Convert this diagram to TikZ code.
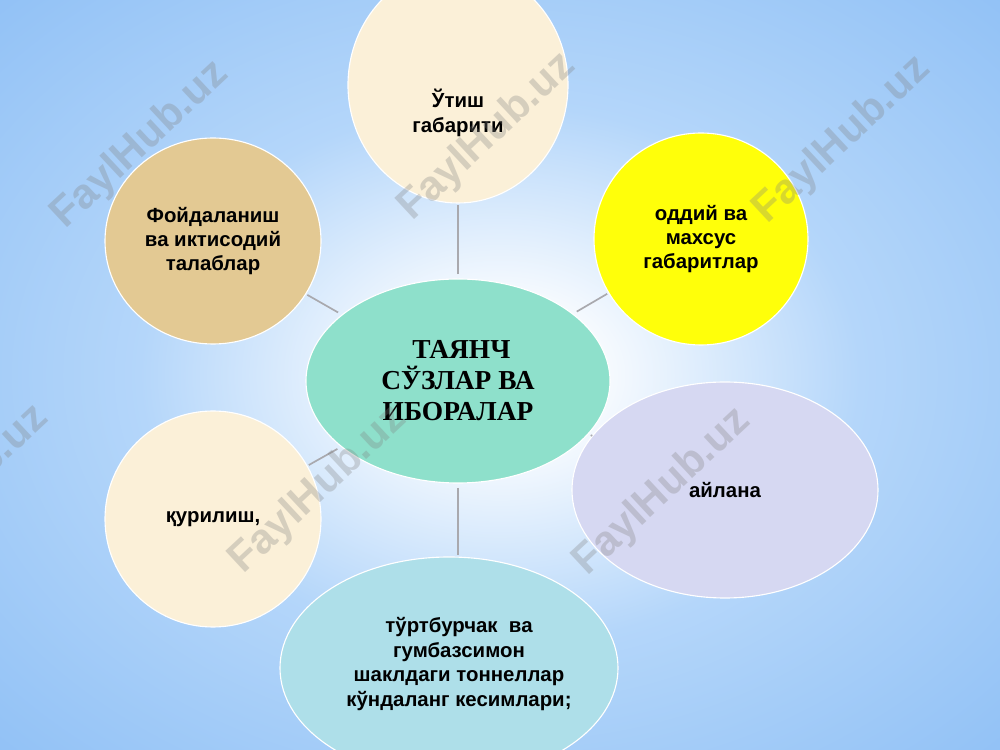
\documentclass[tikz,border=0pt]{standalone}
\usepackage{fontspec}
\setmainfont{Liberation Serif}
\newfontfamily\bubblefont{Liberation Sans}
\usetikzlibrary{positioning, shapes.geometric}

\definecolor{skyblue}{HTML}{8ABDF5}
\definecolor{skymid}{HTML}{B4D6FA}
\definecolor{hubteal}{HTML}{8EE0CB}
\definecolor{cream}{HTML}{FBF0D8}
\definecolor{papyrus}{HTML}{E3C993}
\definecolor{lemon}{HTML}{FFFF0A}
\definecolor{lavender}{HTML}{D6D8F2}
\definecolor{aqua}{HTML}{AEDFE9}
\definecolor{linkgray}{HTML}{A9A9AE}

\pgfdeclareradialshading{skyglow}{\pgfpointorigin}{color(0bp)=(white); color(5bp)=(white!94!skyblue); color(18bp)=(skymid); color(36bp)=(skyblue!94!white); color(72bp)=(skyblue)}

\tikzset{
  bubbletext/.style={align=center, inner sep=0pt,
    font=\bubblefont\bfseries\fontsize{14.5}{17.4}\selectfont},
  bubble/.style={bubbletext, ellipse, draw=white, line width=0.8pt},
  hub/.style={ellipse, draw=white, line width=0.8pt, fill=hubteal, inner sep=0pt, align=center,
    font=\bfseries\fontsize{19.5}{22}\selectfont},
  link/.style={draw=linkgray, line width=1.2pt, shorten <=3pt, shorten >=1pt},
  wmark/.style={font=\bubblefont\bfseries\fontsize{30}{30}\selectfont, text=black!50, opacity=0.3, rotate=43}
}

\begin{document}
\begin{tikzpicture}[x=0.25mm, y=-0.25mm]
  % backdrop
  \clip (0,0) rectangle (1000,750);
  \shade[shading=skyglow] (0,0) rectangle (1000,750);

  % centre
  \node[hub, minimum width=76mm, minimum height=51mm] (tayanch) at (458,381) {\ ТАЯНЧ\\СЎЗЛАР ВА\\ИБОРАЛАР};

  % bubbles round the centre
  \node[bubble, fill=cream, minimum width=55mm, minimum height=59mm,
        label={[bubbletext, name=utish-text, yshift=-7mm]center:Ўтиш\\габарити}] (utish) at (458,85) {};
  \node[bubble, fill=papyrus, minimum width=54mm, minimum height=51.5mm] (talab) at (213,241) {Фойдаланиш\\ва иктисодий\\талаблар};
  \node[bubble, fill=lemon, minimum width=53.5mm, minimum height=53mm] (oddiy) at (701,239) {оддий ва\\махсус\\габаритлар};
  \node[bubble, fill=lavender, minimum width=76.5mm, minimum height=54mm] (aylana) at (725,490) {айлана};
  \node[bubble, fill=cream, minimum width=54mm, minimum height=54mm] (qurilish) at (213,519) {қурилиш,};
  \node[bubble, fill=aqua, minimum width=84.5mm, minimum height=55.5mm,
        label={[bubbletext, name=kesim-text, xshift=2.5mm, yshift=1mm]center:тўртбурчак\ \ ва\\гумбазсимон\\шаклдаги тоннеллар\\кўндаланг кесимлари;}] (kesim) at (449,668) {};

  % connectors
  \draw[link] (tayanch) -- (utish);
  \draw[link] (tayanch) -- (talab);
  \draw[link] (tayanch) -- (oddiy);
  \draw[link] (tayanch) -- (aylana);
  \draw[link] (tayanch) -- (qurilish);
  \draw[link] (tayanch.south) -- (tayanch.south |- kesim.north);

  % watermarks
  \node[wmark] (wm1) at (140,145) {FaylHub.uz};
  \node[wmark] (wm2) at (487,137) {FaylHub.uz};
  \node[wmark] (wm3) at (842,140) {FaylHub.uz};
  \node[wmark] (wm4) at (-40,489) {FaylHub.uz};
  \node[wmark] (wm5) at (318,490) {FaylHub.uz};
  \node[wmark] (wm6) at (662,492) {FaylHub.uz};
\end{tikzpicture}
\end{document}
